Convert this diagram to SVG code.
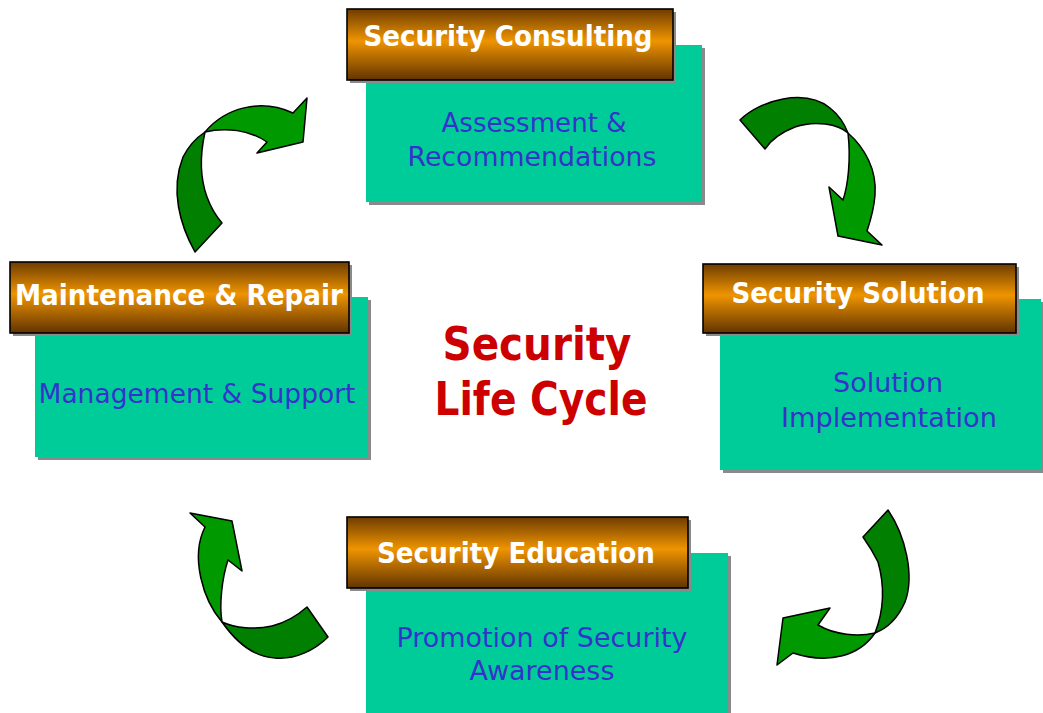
<svg xmlns="http://www.w3.org/2000/svg" width="1043" height="713" viewBox="0 0 1043 713">
<defs>
<linearGradient id="hdr" x1="0" y1="0" x2="0" y2="1">
<stop offset="0" stop-color="#6e3c00"/>
<stop offset="0.45" stop-color="#ef9400"/>
<stop offset="1" stop-color="#623400"/>
</linearGradient>
<style>
.shadow{fill:#8a8a8a}
.body{fill:#00cc99}
.hdr{fill:url(#hdr);stroke:#000;stroke-width:1.6}
.ht{font-family:"DejaVu Sans",Verdana,sans-serif;font-weight:bold;font-size:28px;fill:#fff;text-anchor:middle}
.bt{font-family:"DejaVu Sans",Verdana,sans-serif;font-size:26px;fill:#3333cc;text-anchor:middle}
.ct{font-family:"DejaVu Sans",Verdana,sans-serif;font-weight:bold;font-size:47px;fill:#cc0000;text-anchor:middle}
.dark{fill:#007f00;stroke:#000;stroke-width:1.5;stroke-linejoin:round}
.light{fill:#009900;stroke:#000;stroke-width:1.5;stroke-linejoin:round}
</style>
</defs>
<rect width="1043" height="713" fill="#fff"/>

<g id="connectors">
<g id="arrow-top-right">
<path class="dark" d="M740,120 C760,100 805,88 830,108 C840,116 845,125 848,133 C838,124 815,120 795,127 C782,132 771,140 765,149 Z"/>
<path class="light" d="M848,133 C865,148 877,170 875,195 C874,210 870,222 867,231 L882,245 L838,236 L829,187 L843,200 C848,185 851,160 848,133 Z"/>
</g>
<g id="arrow-bottom-right">
<path class="dark" d="M888,510 C905,535 915,575 905,602 C898,618 888,628 875,633 C882,615 886,590 878,562 C873,552 868,544 863,537 Z"/>
<path class="light" d="M875,633 C860,655 830,665 793,653 L777,665 L783,618 L830,608 L818,625 C835,635 858,637 875,633 Z"/>
</g>
<g id="arrow-bottom-left">
<path class="dark" d="M328,637 C315,650 295,660 275,658 C255,657 238,645 222,622 C235,628 255,630 272,626 C288,622 298,615 307,607 Z"/>
<path class="light" d="M222,622 C203,600 190,557 205,527 L190,513 L232,521 L242,571 L228,560 C222,578 219,605 222,622 Z"/>
</g>
<g id="arrow-top-left">
<path class="dark" d="M195,252 C180,225 170,190 183,157 C188,147 196,138 205,132 C201,150 199,175 207,197 C211,208 216,216 222,223 Z"/>
<path class="light" d="M205,132 C225,108 260,98 293,113 L307,98 L303,142 L257,153 L267,142 C250,130 225,127 205,132 Z"/>
</g>
</g>

<g id="node-consulting">
<rect class="shadow" x="369" y="48" width="336" height="157"/>
<rect class="body" x="366" y="45" width="336" height="157"/>
<rect class="shadow" x="350" y="12" width="326" height="71"/>
<rect class="hdr" x="347" y="9" width="326" height="71"/>
<text class="ht" x="508" y="46" textLength="289" lengthAdjust="spacingAndGlyphs">Security Consulting</text>
<text class="bt" x="534" y="132" textLength="185" lengthAdjust="spacingAndGlyphs">Assessment &amp;</text>
<text class="bt" x="532" y="166" textLength="249" lengthAdjust="spacingAndGlyphs">Recommendations</text>
</g>

<g id="node-maintenance">
<rect class="shadow" x="38" y="300" width="333" height="160"/>
<rect class="body" x="35" y="297" width="333" height="160"/>
<rect class="shadow" x="13" y="265" width="339" height="71"/>
<rect class="hdr" x="10" y="262" width="339" height="71"/>
<text class="ht" x="179" y="305" textLength="328" lengthAdjust="spacingAndGlyphs">Maintenance &amp; Repair</text>
<text class="bt" x="197" y="403" textLength="317" lengthAdjust="spacingAndGlyphs">Management &amp; Support</text>
</g>

<g id="node-solution">
<rect class="shadow" x="723" y="302" width="321" height="171"/>
<rect class="body" x="720" y="299" width="321" height="171"/>
<rect class="shadow" x="706" y="267" width="313" height="69"/>
<rect class="hdr" x="703" y="264" width="313" height="69"/>
<text class="ht" x="858" y="303" textLength="253" lengthAdjust="spacingAndGlyphs">Security Solution</text>
<text class="bt" x="888" y="392" textLength="110" lengthAdjust="spacingAndGlyphs">Solution</text>
<text class="bt" x="889" y="427" textLength="216" lengthAdjust="spacingAndGlyphs">Implementation</text>
</g>

<g id="node-education">
<rect class="shadow" x="369" y="556" width="362" height="160"/>
<rect class="body" x="366" y="553" width="362" height="160"/>
<rect class="shadow" x="350" y="520" width="341" height="71"/>
<rect class="hdr" x="347" y="517" width="341" height="71"/>
<text class="ht" x="516" y="563" textLength="278" lengthAdjust="spacingAndGlyphs">Security Education</text>
<text class="bt" x="542" y="647" textLength="291" lengthAdjust="spacingAndGlyphs">Promotion of Security</text>
<text class="bt" x="542" y="680" textLength="145" lengthAdjust="spacingAndGlyphs">Awareness</text>
</g>

<g id="center-title">
<text class="ct" x="537" y="360" textLength="189" lengthAdjust="spacingAndGlyphs">Security</text>
<text class="ct" x="541" y="415" textLength="213" lengthAdjust="spacingAndGlyphs">Life Cycle</text>
</g>
</svg>
